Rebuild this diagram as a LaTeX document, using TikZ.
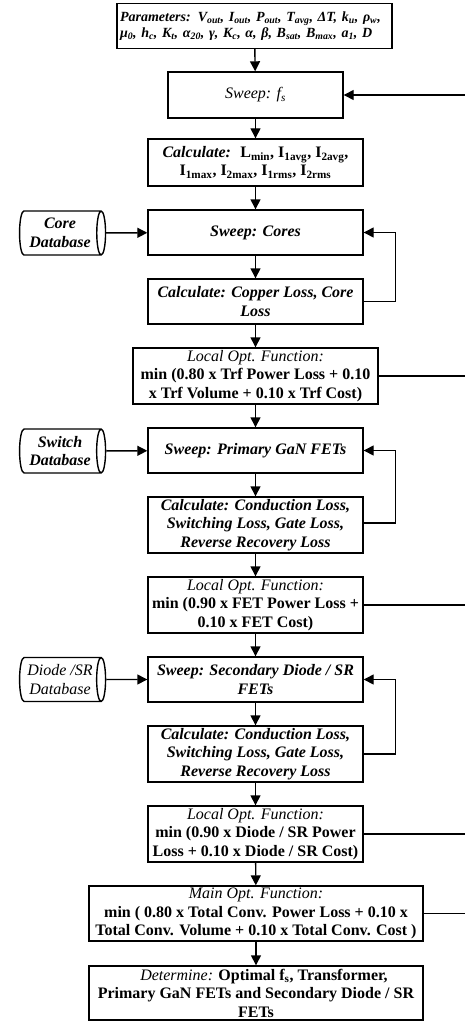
\documentclass[tikz,border=0pt]{standalone}
\usepackage{fontspec}
\setmainfont{Liberation Serif}
\usetikzlibrary{arrows.meta,positioning,shapes.geometric}

\newcommand{\bi}[1]{\textbf{\textit{#1}}}
\newcommand{\sbs}[1]{\textsubscript{#1}}

\begin{document}
\begin{tikzpicture}[x=1pt,y=-1pt,
   bx/.style={draw,line width=1.4pt,minimum width=215pt,minimum height=#1,
      inner sep=1pt,align=center,font=\fontsize{16}{18.5}\selectfont},
   bx/.default=45pt,
   db/.style={draw,line width=1.4pt,cylinder,shape aspect=0.3,
      minimum height=86pt,minimum width=44pt,inner sep=0pt,align=center,
      font=\fontsize{16}{18.5}\selectfont},
   ar/.style={-{Triangle[length=10pt,width=10pt]},line width=1.4pt},
   ln/.style={line width=1.4pt}]
  \useasboundingbox (0,0) rectangle (465,1022);
  % main column
  \node[bx,minimum width=275pt,text width=269pt,align=left,
        font=\fontsize{14}{16.5}\selectfont] (par) at (254.5,26)
   {\bi{Parameters: V\sbs{out}, I\sbs{out}, P\sbs{out}, T\sbs{avg}, ΔT, k\sbs{u}, ρ\sbs{w},\\
    μ\sbs{0}, h\sbs{c}, K\sbs{t}, α\sbs{20}, γ, K\sbs{c}, α, β, B\sbs{sat}, B\sbs{max}, a\sbs{1}, D}};
  \node[bx=46pt,minimum width=175pt] (swf) at (255.5,95) {\textit{Sweep: f\sbs{s}}};
  \node[bx=47pt] (calL) at (255.5,162.5)
   {\bi{Calculate:} \ \textbf{L\sbs{min}, I\sbs{1avg}, I\sbs{2avg},}\\
    \textbf{I\sbs{1max}, I\sbs{2max}, I\sbs{1rms}, I\sbs{2rms}}};
  \node[bx] (swc) at (255.5,232.5) {\bi{Sweep: Cores}};
  \node[bx] (calcu) at (255.5,301.5) {\bi{Calculate: Copper Loss, Core}\\ \bi{Loss}};
  \node[bx=56pt,minimum width=245pt] (opt1) at (255.5,376)
   {\textit{Local Opt. Function:}\\ \textbf{min (0.80 x Trf Power Loss + 0.10}\\
    \textbf{x Trf Volume + 0.10 x Trf Cost)}};
  \node[bx] (swp) at (255.5,450.5) {\bi{Sweep: Primary GaN FETs}};
  \node[bx=56pt] (calp) at (255.5,525)
   {\bi{Calculate: Conduction Loss,}\\ \bi{Switching Loss, Gate Loss,}\\ \bi{Reverse Recovery Loss}};
  \node[bx=56pt] (opt2) at (255.5,605)
   {\textit{Local Opt. Function:}\\ \textbf{min (0.90 x FET Power Loss +}\\ \textbf{0.10 x FET Cost)}};
  \node[bx] (sws) at (255.5,679.5) {\bi{Sweep: Secondary Diode / SR}\\ \bi{FETs}};
  \node[bx=56pt] (cals) at (255.5,754)
   {\bi{Calculate: Conduction Loss,}\\ \bi{Switching Loss, Gate Loss,}\\ \bi{Reverse Recovery Loss}};
  \node[bx=56pt] (opt3) at (255.5,834)
   {\textit{Local Opt. Function:}\\ \textbf{min (0.90 x Diode / SR Power}\\
    \textbf{Loss + 0.10 x Diode / SR Cost)}};
  \node[bx=55pt,minimum width=334pt] (mopt) at (256,913.5)
   {\textit{Main Opt. Function:}\\ \textbf{min ( 0.80 x Total Conv. Power Loss + 0.10 x}\\
    \textbf{Total Conv. Volume + 0.10 x Total Conv. Cost )}};
  \node[bx=54pt,minimum width=334pt] (det) at (256,993)
   {\quad\textit{Determine:} \textbf{Optimal f\sbs{s}, Transformer,}\\
    \textbf{Primary GaN FETs and Secondary Diode / SR}\\ \textbf{FETs}};
  % databases
  \node[db] (cdb) at (60,233) {\bi{Core}\\ \bi{Database}};
  \node[db] (sdb) at (60,451) {\bi{Switch}\\ \bi{Database}};
  \node[db] (ddb) at (60,679.5) {\textit{Diode /SR}\\ \textit{Database}};
  % flow
  \foreach \a/\b in {par/swf,swf/calL,calL/swc,swc/calcu,calcu/opt1,opt1/swp,swp/calp,
      calp/opt2,opt2/sws,sws/cals,cals/opt3,opt3/mopt,mopt/det}
     \draw[ar] (\a) -- (\b);
  \draw[ar] (cdb) -- (swc);
  \draw[ar] (sdb) -- (swp);
  \draw[ar] (ddb) -- (sws);
  % loops
  \draw[ar] (calcu.east) -- ++(32,0) |- (swc.east);
  \draw[ar] ([yshift=2pt]calp.east) -- ++(32,0) |- (swp.east);
  \draw[ar] (cals.east) -- ++(32,0) |- (sws.east);
  % to outer loop
  \coordinate (rf) at (465,95);
  \draw[ar] (rf) -- (swf.east);
  \foreach \n in {opt1,opt2,opt3,mopt}
     \draw[ln] (\n.east) -- (\n.east -| rf);
\end{tikzpicture}
\end{document}
